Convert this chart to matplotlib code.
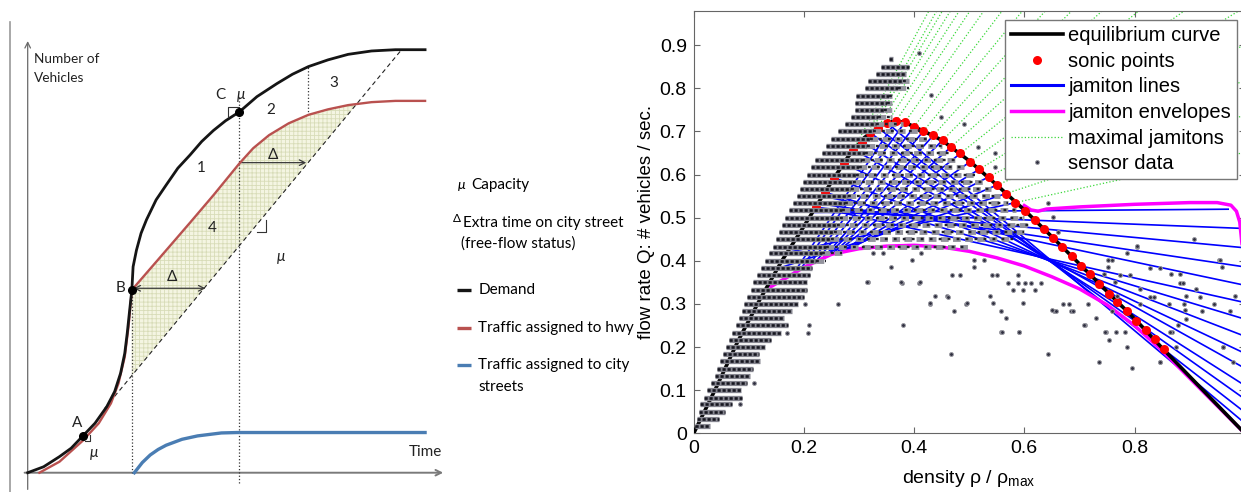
import numpy as np
import matplotlib
matplotlib.use("Agg")
import matplotlib.pyplot as plt
from matplotlib.lines import Line2D

plt.rcParams['font.family'] = ['Liberation Sans', 'DejaVu Sans']
plt.rcParams['mathtext.fontset'] = 'custom'
plt.rcParams['mathtext.rm'] = 'Liberation Sans'
plt.rcParams['mathtext.it'] = 'Liberation Sans:italic'
plt.rcParams['hatch.linewidth'] = 0.6

# ---------------- left panel: schematic cumulative curves ----------------
dem_t = [0, 3.8, 7.6, 10.4, 13.2, 16.1, 18.9, 20.8, 22.2, 23.2, 23.8, 24.3, 24.9, 25.2, 26.0,
         27.1, 28.4, 30.7, 33.1, 35.9, 38.8, 41.6, 44.4, 47.3, 50.6, 54.8, 59.6, 63.3, 67.1,
         71.8, 76.6, 82.2, 87.9, 95.0]
dem_n = [0, 1.4, 3.8, 5.8, 8.7, 11.7, 15.6, 19.2, 23.5, 28.2, 33.0, 37.7, 43.2, 48.7, 52.6,
         56.6, 59.8, 64.5, 68.0, 72.0, 75.1, 78.3, 80.9, 83.2, 85.3, 88.9, 92.0, 94.2, 96.0,
         97.6, 98.9, 99.7, 100.0, 100.0]
hwy_t = [2.8, 7.6, 13.2, 17.0, 19.9, 21.7, 23.2, 24.1, 24.9, 31.2, 38.8, 44.4, 50.6, 53.9,
         57.7, 62.4, 67.1, 71.8, 76.6, 82.2, 87.9, 95.0]
hwy_n = [0, 2.6, 7.6, 11.7, 16.4, 21.1, 27.4, 34.5, 43.2, 50.4, 59.1, 65.6, 73.1, 76.7,
         79.8, 82.6, 84.6, 85.9, 86.9, 87.6, 87.9, 87.9]
city_t = [25.5, 27.4, 29.3, 31.2, 33.1, 36.9, 40.6, 46.3, 50.1, 95.0]
city_n = [0, 2.4, 4.2, 5.5, 6.5, 7.9, 8.7, 9.4, 9.5, 9.5]
cap_t = [18.4, 89.3]          # capacity line (dashed)
cap_n = [15.2, 99.9]
pt_A = (13.2, 8.7)
pt_B = (24.9, 43.2)
pt_C = (50.4, 85.2)

# ---------------- right panel: fundamental diagram ----------------
eq_rho = [0, 0.04, 0.08, 0.12, 0.16, 0.20, 0.24, 0.28, 0.31, 0.335, 0.35, 0.367, 0.383, 0.40,
          0.42, 0.45, 0.50, 0.55, 0.60, 0.65, 0.70, 0.75, 0.80, 0.85, 0.90, 0.95, 1.0]
eq_q = [0, 0.104, 0.213, 0.310, 0.400, 0.480, 0.563, 0.641, 0.686, 0.709, 0.720, 0.724, 0.721,
        0.711, 0.699, 0.680, 0.632, 0.576, 0.518, 0.456, 0.393, 0.329, 0.266, 0.198, 0.132,
        0.066, 0.0]

sonic_rho = [0.222, 0.238, 0.254, 0.272, 0.290, 0.306, 0.320, 0.334, 0.351, 0.367, 0.383,
             0.400, 0.417, 0.435, 0.452, 0.467, 0.484, 0.502, 0.518, 0.536, 0.551, 0.567,
             0.584, 0.602, 0.619, 0.635, 0.652, 0.668, 0.687, 0.703, 0.720, 0.736, 0.753,
             0.769, 0.786, 0.803, 0.821, 0.837, 0.853]
sonic_q = [0.525, 0.559, 0.593, 0.626, 0.658, 0.676, 0.697, 0.709, 0.720, 0.724, 0.721, 0.711,
           0.701, 0.691, 0.680, 0.664, 0.649, 0.630, 0.612, 0.595, 0.576, 0.556, 0.535, 0.516,
           0.494, 0.474, 0.452, 0.433, 0.410, 0.389, 0.369, 0.346, 0.324, 0.304, 0.284, 0.261,
           0.239, 0.218, 0.196]

# jamiton lines: anchor sonic index, slope, density range
jam_idx = list(range(0, 28))
jam_slope = [-0.285, -0.386, -0.493, -0.605, -0.714, -0.814, -0.908, -0.991, -1.073,
             1.90, 1.80, 1.68, 1.55, 1.42, 1.28, 1.15, 1.02, 0.90, 0.78, 0.66, 0.54, 0.42, 0.28,
             0.01, -0.05, -0.12, -0.19, -0.27]
jam_lo = [0.222, 0.238, 0.254, 0.272, 0.290, 0.306, 0.320, 0.334, 0.351,
          0.183, 0.194, 0.209, 0.223, 0.235, 0.243, 0.251, 0.257, 0.269, 0.273, 0.274, 0.262,
          0.153, 0.170,
          0.215, 0.217, 0.221, 0.226, 0.234]
jam_hi = [0.995] * 9 + [0.367, 0.383, 0.400, 0.417, 0.435, 0.452, 0.467, 0.484, 0.502, 0.518,
                        0.536, 0.551, 0.567, 0.584] + [0.97, 0.995, 0.995, 0.995, 0.995]

# maximal jamitons (green dotted): anchor sonic index and slope
max_idx = list(range(4, 23))
max_slope = [2.35, 2.25, 2.15, 2.05, 1.98, 1.90, 1.80, 1.68, 1.55, 1.42, 1.28, 1.15, 1.02,
             0.90, 0.78, 0.66, 0.54, 0.42, 0.28]

env_lo_rho = [0.14, 0.17, 0.20, 0.25, 0.30, 0.35, 0.40, 0.45, 0.50, 0.55, 0.60, 0.65, 0.70,
              0.75, 0.80, 0.85, 0.90, 0.95, 1.0]
env_lo_q = [0.340, 0.362, 0.385, 0.415, 0.428, 0.434, 0.436, 0.432, 0.422, 0.407, 0.388,
            0.363, 0.335, 0.298, 0.250, 0.192, 0.128, 0.064, 0.0]
env_up_rho = [0.600, 0.612, 0.625, 0.640, 0.70, 0.80, 0.90, 0.95, 0.975, 0.985, 0.991, 0.995]
env_up_q = [0.528, 0.518, 0.515, 0.520, 0.525, 0.531, 0.535, 0.535, 0.529, 0.515, 0.490, 0.440]

# sensor data: quantised flow rows (dense part, sparse continuation) and isolated points
row_q = [0.017, 0.033, 0.050, 0.067, 0.083, 0.100, 0.117, 0.133, 0.150, 0.167, 0.183, 0.200,
         0.217, 0.233, 0.250, 0.267, 0.283, 0.300, 0.317, 0.333, 0.350, 0.367, 0.383, 0.400,
         0.417, 0.433, 0.450, 0.467, 0.483, 0.500, 0.517, 0.533, 0.550, 0.567, 0.583, 0.600,
         0.617, 0.633, 0.650, 0.667, 0.683, 0.700, 0.717, 0.733, 0.750, 0.767, 0.783, 0.800,
         0.817, 0.833, 0.850, 0.867]
row_lo = [0.002, 0.006, 0.009, 0.012, 0.019, 0.025, 0.032, 0.038, 0.043, 0.048, 0.053, 0.059,
          0.064, 0.069, 0.077, 0.082, 0.087, 0.092, 0.097, 0.104, 0.108, 0.115, 0.122, 0.130,
          0.137, 0.144, 0.150, 0.154, 0.160, 0.166, 0.173, 0.180, 0.187, 0.193, 0.198, 0.205,
          0.213, 0.220, 0.232, 0.240, 0.250, 0.262, 0.275, 0.285, 0.292, 0.293, 0.295, 0.310,
          0.317, 0.330, 0.340, 0.355]
row_mid = [0.030, 0.046, 0.057, 0.070, 0.088, 0.085, 0.097, 0.102, 0.108, 0.120, 0.118, 0.130,
           0.140, 0.158, 0.171, 0.163, 0.178, 0.190, 0.200, 0.205, 0.205, 0.211, 0.215, 0.222,
           0.232, 0.240, 0.250, 0.255, 0.260, 0.265, 0.270, 0.275, 0.280, 0.285, 0.290, 0.295,
           0.300, 0.305, 0.310, 0.315, 0.320, 0.325, 0.330, 0.335, 0.345, 0.350, 0.355, 0.370,
           0.380, 0.385, 0.390, 0.362]
row_hi = [0.030, 0.046, 0.057, 0.070, 0.088, 0.085, 0.097, 0.102, 0.108, 0.120, 0.118, 0.130,
          0.140, 0.158, 0.171, 0.163, 0.178, 0.190, 0.200, 0.205, 0.205, 0.211, 0.215, 0.240,
          0.270, 0.500, 0.580, 0.600, 0.610, 0.600, 0.585, 0.570, 0.555, 0.540, 0.525, 0.510,
          0.495, 0.480, 0.465, 0.450, 0.430, 0.410, 0.380, 0.360, 0.360, 0.360, 0.360, 0.390,
          0.390, 0.385, 0.390, 0.362]
sc_rho = [0.084, 0.110, 0.208, 0.169, 0.202, 0.261, 0.210, 0.379, 0.317, 0.326, 0.358, 0.378,
          0.408, 0.438, 0.428, 0.459, 0.473, 0.494, 0.467, 0.538, 0.557, 0.567, 0.558, 0.590,
          0.570, 0.588, 0.602, 0.613, 0.630, 0.588, 0.619, 0.643, 0.671, 0.654, 0.685, 0.710,
          0.731, 0.748, 0.753, 0.767, 0.735, 0.795, 0.786, 0.847, 0.908, 0.805, 0.866, 0.883,
          0.883, 0.953, 0.959, 0.944, 0.960, 0.983, 0.863, 0.894, 0.922, 0.868, 0.810, 0.835,
          0.764, 0.751, 0.744, 0.769, 0.449, 0.490, 0.431, 0.408, 0.516, 0.546, 0.546, 0.643,
          0.652, 0.661, 0.804, 0.787, 0.955, 0.828, 0.847, 0.759, 0.773, 0.791, 0.752, 0.888,
          0.912, 0.973, 0.889, 0.892, 0.894, 0.879, 0.864, 0.875, 0.960, 0.978, 0.846, 0.747,
          0.783, 0.709, 0.682, 0.688, 0.657, 0.716, 0.760, 0.810, 0.828, 0.918, 0.344, 0.396,
          0.413, 0.315, 0.377, 0.410, 0.429, 0.462, 0.496, 0.468, 0.483, 0.508, 0.509, 0.527,
          0.541, 0.550, 0.544, 0.559, 0.591, 0.580, 0.598, 0.598, 0.651]
sc_q = [0.067, 0.117, 0.233, 0.233, 0.300, 0.301, 0.251, 0.251, 0.352, 0.417, 0.386, 0.349,
        0.349, 0.318, 0.301, 0.318, 0.284, 0.301, 0.183, 0.318, 0.284, 0.267, 0.234, 0.234,
        0.349, 0.349, 0.349, 0.349, 0.349, 0.367, 0.332, 0.183, 0.301, 0.284, 0.284, 0.251,
        0.267, 0.234, 0.216, 0.234, 0.166, 0.151, 0.201, 0.166, 0.450, 0.433, 0.369, 0.369,
        0.349, 0.402, 0.386, 0.301, 0.201, 0.318, 0.301, 0.318, 0.284, 0.234, 0.334, 0.317,
        0.352, 0.402, 0.369, 0.318, 0.734, 0.717, 0.784, 0.883, 0.664, 0.649, 0.618, 0.533,
        0.502, 0.467, 0.434, 0.418, 0.401, 0.383, 0.383, 0.401, 0.367, 0.367, 0.385, 0.349,
        0.334, 0.284, 0.301, 0.286, 0.266, 0.251, 0.236, 0.199, 0.199, 0.166, 0.166, 0.236,
        0.236, 0.251, 0.301, 0.284, 0.284, 0.301, 0.284, 0.301, 0.316, 0.317, 0.417, 0.402,
        0.417, 0.352, 0.352, 0.352, 0.302, 0.317, 0.302, 0.367, 0.367, 0.402, 0.386, 0.402,
        0.367, 0.367, 0.302, 0.236, 0.236, 0.333, 0.333, 0.302, 0.286]

x_ticks = [0, 0.2, 0.4, 0.6, 0.8]
x_labels = ['0', '0.2', '0.4', '0.6', '0.8']
y_ticks = [0, 0.1, 0.2, 0.3, 0.4, 0.5, 0.6, 0.7, 0.8, 0.9]
y_labels = ['0', '0.1', '0.2', '0.3', '0.4', '0.5', '0.6', '0.7', '0.8', '0.9']

fig = plt.figure(figsize=(12.41, 4.92), dpi=100)

# ======== left schematic ========
LF = ['Lato', 'DejaVu Sans']
axL = fig.add_axes([0, 0, 620 / 1241, 1])
axL.set_xlim(-6.62, 141.6)
axL.set_ylim(-4.56, 111.75)
axL.axis('off')

axL.plot([-4.26, -4.26], [-4.56, 106.6], color='#9a9a9a', lw=1.2)
axL.annotate('', xy=(0, 102.7), xytext=(0, -4.6),
             arrowprops=dict(arrowstyle='->', color='#6a6a6a', lw=0.9))
axL.annotate('', xy=(100, 0), xytext=(-1.4, 0),
             arrowprops=dict(arrowstyle='->', color='#7a7a7a', lw=1.4))

# hatched area between highway curve and capacity line
tt = np.linspace(pt_B[0], cap_t[1], 500)
up = np.interp(tt, hwy_t, hwy_n)
lo = np.interp(tt, cap_t, cap_n)
axL.fill_between(tt, lo, up, where=up >= lo, facecolor='#f4f5e2', edgecolor='#d8dcb8',
                 hatch='++++', linewidth=0, zorder=1)

axL.plot(cap_t, cap_n, color='#222222', lw=0.8, ls=(0, (4, 3)), zorder=3)
axL.plot([pt_B[0], pt_B[0]], [0, pt_B[1]], color='#333333', lw=0.9, ls=':', zorder=3)
axL.plot([pt_C[0], pt_C[0]], [-2.5, 88.9], color='#333333', lw=0.9, ls=':', zorder=3)
axL.plot([66.9, 66.9], [84.5, 96.0], color='#333333', lw=0.9, ls=':', zorder=3)

axL.plot(city_t, city_n, color='#4a7db3', lw=2.4, zorder=4)
axL.plot(hwy_t, hwy_n, color='#b9514f', lw=1.7, zorder=4)
axL.plot(dem_t, dem_n, color='#151515', lw=2.0, zorder=5)
axL.plot(*zip(pt_A, pt_B, pt_C), 'o', color='black', ms=5.5, zorder=6)

axL.plot([48.0, 48.0, 50.4], [84.0, 86.4, 86.4], color='#333333', lw=0.8, zorder=5)
axL.plot([54.8, 56.9, 56.9], [57.0, 57.0, 59.7], color='#333333', lw=0.8, zorder=5)
axL.plot([13.8, 14.9, 14.9], [7.5, 7.5, 9.0], color='#333333', lw=0.8, zorder=5)

axL.annotate('', xy=(42.5, 43.6), xytext=(25.3, 43.6),
             arrowprops=dict(arrowstyle='<->', color='#3a3a3a', lw=0.9, shrinkA=0, shrinkB=0))
axL.annotate('', xy=(66.6, 73.3), xytext=(50.8, 73.3),
             arrowprops=dict(arrowstyle='->', color='#3a3a3a', lw=0.9, shrinkA=0, shrinkB=0))

fsL = 11
axL.text(1.6, 95.5, 'Number of\nVehicles', family=LF, fontsize=9.8, va='center', ha='left',
         linespacing=1.75, color='#222222')
axL.text(91.0, 5.0, 'Time', family=LF, fontsize=11, va='center', ha='left', color='#222222')
labels_L = [('A', 11.8, 11.7), ('B', 22.2, 43.6), ('C', 46.1, 89.2), ('1', 41.6, 72.0),
            ('2', 58.1, 85.7), ('3', 73.2, 92.1), ('4', 44.1, 57.8), ('Δ', 34.5, 46.3),
            ('Δ', 58.6, 75.0)]
for s, x, y in labels_L:
    axL.text(x, y, s, family=LF, fontsize=11, ha='center', va='center', color='#222222')
for x, y in [(15.8, 4.6), (50.9, 89.2), (60.5, 51.1)]:
    axL.text(x, y, 'μ', family=LF, fontsize=11, ha='center', va='center', color='#222222',
             style='italic')

# legend text of the schematic
axL.text(102.8, 68.0, 'μ', family=LF, fontsize=10, ha='left', va='center', style='italic')
axL.text(106.0, 68.0, 'Capacity', family=LF, fontsize=fsL, ha='left', va='center')
axL.text(101.6, 60.0, 'Δ', family=LF, fontsize=8.5, ha='left', va='center')
axL.text(104.0, 59.0, 'Extra time on city street', family=LF, fontsize=fsL, ha='left',
         va='center')
axL.text(103.6, 54.2, '(free-flow status)', family=LF, fontsize=fsL, ha='left', va='center')
for y, c, s in [(43.2, '#151515', 'Demand'), (34.1, '#b9514f', 'Traffic assigned to hwy'),
                (25.5, '#4a7db3', 'Traffic assigned to city')]:
    axL.plot([102.6, 105.9], [y, y], color=c, lw=2.4, solid_capstyle='butt')
    axL.text(107.7, y, s, family=LF, fontsize=fsL, ha='left', va='center')
axL.text(107.7, 20.3, 'streets', family=LF, fontsize=fsL, ha='left', va='center')

# ======== right fundamental diagram ========
axR = fig.add_axes([693.7 / 1241, (492 - 433.3) / 492, 551 / 1241, 422.6 / 492])
axR.set_xlim(0, 1)
axR.set_ylim(0, 0.98)

for i, s in zip(max_idx, max_slope):
    r0, q0 = sonic_rho[i], sonic_q[i]
    axR.plot([r0, 1.05], [q0, q0 + s * (1.05 - r0)], color='#3ad83a', lw=0.9, ls=':',
             zorder=1)
for i, s, a, b in zip(jam_idx, jam_slope, jam_lo, jam_hi):
    r0, q0 = sonic_rho[i], sonic_q[i]
    axR.plot([a, b], [q0 + s * (a - r0), q0 + s * (b - r0)], color='#0000ff', lw=1.2, zorder=2)
axR.plot(env_lo_rho, env_lo_q, color='#ff00ff', lw=2.5, zorder=3)
axR.plot(env_up_rho, env_up_q, color='#ff00ff', lw=2.5, zorder=3)
axR.plot(eq_rho, eq_q, color='black', lw=2.6, zorder=4)
axR.plot(sonic_rho, sonic_q, 'o', color='#ff0000', ms=6.5, mec='none', zorder=5)

# dense rows: grey halo + dark beads
axR.hlines(row_q, row_lo, row_mid, colors='#85858f', linewidths=3.8, zorder=6)
axR.hlines(row_q, row_lo, row_mid, colors='#16161f', linewidths=1.9,
           linestyles=(0, (1.2, 0.7)), zorder=6)
# sparser continuation inside the jamiton region
axR.hlines(row_q, row_mid, row_hi, colors='#94949e', linewidths=3.5,
           linestyles=(0, (1.6, 0.9)), zorder=6)
axR.hlines(row_q, row_mid, row_hi, colors='#20202a', linewidths=1.7,
           linestyles=(0, (1.2, 2.6)), zorder=6)
axR.plot(sc_rho, sc_q, 'o', ms=2.8, mfc='#303040', mec='#9a9aa2', mew=0.7, ls='none', zorder=6)

axR.set_xticks(x_ticks)
axR.set_xticklabels(x_labels)
axR.set_yticks(y_ticks)
axR.set_yticklabels(y_labels)
axR.tick_params(direction='in', length=4, width=0.8, color='#666666', labelsize=14,
                top=True, right=True, pad=5)
for sp in axR.spines.values():
    sp.set_color('#666666')
    sp.set_linewidth(0.8)
axR.set_ylabel('flow rate Q: # vehicles / sec.', fontsize=13.5)
axR.yaxis.set_label_coords(-0.070, 0.5)
axR.set_xlabel(r'density ρ / ρ$_{\rm max}$', fontsize=14, labelpad=8)

handles = [
    Line2D([], [], color='black', lw=2.6),
    Line2D([], [], ls='none', marker='o', color='#ff0000', ms=6.5, mec='none'),
    Line2D([], [], color='#0000ff', lw=2.2),
    Line2D([], [], color='#ff00ff', lw=2.5),
    Line2D([], [], color='#3ad83a', lw=0.9, ls=':'),
    Line2D([], [], ls='none', marker='o', ms=2.8, mfc='#303040', mec='#9a9aa2', mew=0.7),
]
names = ['equilibrium curve', 'sonic points', 'jamiton lines', 'jamiton envelopes',
         'maximal jamitons', 'sensor data']
leg = axR.legend(handles, names, loc='upper right', bbox_to_anchor=(1237 / 1241, 1 - 20 / 492),
                 bbox_transform=fig.transFigure, fontsize=14.5, fancybox=False, framealpha=1,
                 edgecolor='#777777', borderpad=0.3, handlelength=2.6, handletextpad=0.25,
                 labelspacing=0.33, borderaxespad=0)
leg.set_zorder(10)
leg.get_frame().set_linewidth(1.0)

fig.savefig('out.png', dpi=100)
